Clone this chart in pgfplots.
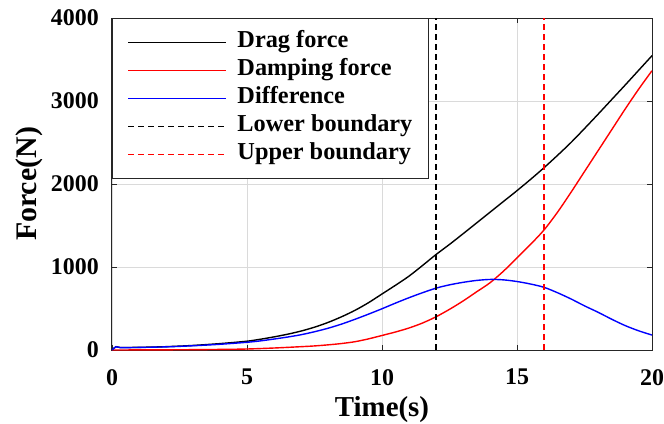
\documentclass[border=0pt]{standalone}
\usepackage{fontspec}
\setmainfont{Liberation Serif}
\usepackage{pgfplots}
\pgfplotsset{compat=1.18}
\definecolor{axgray}{HTML}{262626}
\definecolor{gridgray}{HTML}{DADADA}
\begin{document}
\begin{tikzpicture}
\begin{axis}[
  scale only axis,
  width=540bp, height=332bp,
  xmin=0, xmax=20, ymin=0, ymax=4000,
  xtick={0,5,10,15,20},
  ytick={0,1000,2000,3000,4000},
  axis line style={axgray, line width=1bp},
  tick style={axgray, line width=0.8bp},
  major tick length=5bp,
  tick align=inside,
  xtick pos=both, ytick pos=both,
  grid=major,
  major grid style={gridgray, line width=0.8bp},
  /pgf/number format/assume math mode=true,
  /pgf/number format/set thousands separator={},
  every tick label/.append style={font=\fontsize{24}{26}\selectfont\bfseries, inner sep=0pt},
  xticklabel style={anchor=north, yshift=-19bp},
  yticklabel style={anchor=east, xshift=-13bp},
  xlabel={Time(s)}, ylabel={Force(N)},
  xlabel style={font=\fontsize{29}{31}\selectfont\bfseries, inner sep=0pt, at={(axis description cs:0.5,-0.199)}, anchor=base},
  ylabel style={font=\fontsize{30}{32}\selectfont\bfseries, inner sep=0pt, at={(axis description cs:-0.139,0.5)}, anchor=base, rotate=0},
  legend style={at={(0,1)}, anchor=north west, draw=axgray, line width=1bp,
    font=\fontsize{24.4}{26}\selectfont\bfseries, row sep=0pt,
    inner xsep=12bp, inner ysep=10bp,
    nodes={inner xsep=4bp, inner ysep=4bp, text height=15bp, text depth=5bp}},
  legend cell align=left,
]
\addplot[draw=black, line width=1.4bp, smooth,
  legend image code/.code={\path[draw=none] (0bp,0bp) -- (109bp,0bp); \draw[draw=black, line width=1.4bp, solid] (4bp,0bp) -- (102bp,0bp);}] coordinates {
(0,0) (0.15,40) (0.3,30) (1,32) (2,40) (3,55) (4,77) (5,106) (5.5,130) (6,158) (6.5,190) (7,228) (7.5,275) (8,332) (8.5,400) (9,478) (9.5,570) (10,675) (10.5,780) (11,890) (11.5,1018) (12,1150) (12.5,1272) (13,1400) (13.5,1530) (14,1660) (14.5,1790) (15,1920) (15.5,2055) (16,2196) (16.5,2345) (17,2500) (17.5,2668) (18,2840) (18.5,3015) (19,3190) (19.5,3368) (20,3546)};
\addlegendentry{Drag force}
\addplot[draw=red, line width=1.4bp, smooth,
  legend image code/.code={\path[draw=none] (0bp,0bp) -- (109bp,0bp); \draw[draw=red, line width=1.4bp, solid] (4bp,0bp) -- (102bp,0bp);}] coordinates {
(0,0) (1,1) (2,2) (3,4) (4,7) (5,12) (6,24) (7,40) (7.5,49) (8,62) (8.5,78) (9,100) (9.5,134) (10,175) (10.5,217) (11,265) (11.5,325) (12,400) (12.5,490) (13,590) (13.5,700) (14,810) (14.5,950) (15,1110) (15.5,1272) (16,1446) (16.5,1660) (17,1900) (17.5,2150) (18,2400) (18.5,2650) (19,2900) (19.5,3140) (20,3365)};
\addlegendentry{Damping force}
\addplot[draw=blue, line width=1.4bp, smooth,
  legend image code/.code={\path[draw=none] (0bp,0bp) -- (109bp,0bp); \draw[draw=blue, line width=1.4bp, solid] (4bp,0bp) -- (102bp,0bp);}] coordinates {
(0,0) (0.15,40) (0.3,29) (1,31) (2,38) (3,51) (4,69) (5,93) (5.5,110) (6,132) (6.5,156) (7,184) (7.5,220) (8,262) (8.5,312) (9,370) (9.5,432) (10,497) (10.5,565) (11,630) (11.5,690) (12,745) (12.5,785) (13,815) (13.5,838) (14,850) (14.5,845) (15,825) (15.5,795) (16,755) (16.5,690) (17,615) (17.5,532) (18,455) (18.5,372) (19,295) (19.5,232) (20,180)};
\addlegendentry{Difference}
\addplot[draw=black, line width=1.3bp, dash pattern=on 6bp off 4bp,
  legend image code/.code={\path[draw=none] (0bp,0bp) -- (109bp,0bp); \draw[draw=black, line width=1.3bp, dash pattern=on 6bp off 4bp] (4bp,0bp) -- (102bp,0bp);}] coordinates {(12,0) (12,4000)};
\addlegendentry{Lower boundary}
\addplot[draw=red, line width=1.3bp, dash pattern=on 6bp off 4bp,
  legend image code/.code={\path[draw=none] (0bp,0bp) -- (109bp,0bp); \draw[draw=red, line width=1.3bp, dash pattern=on 6bp off 4bp] (4bp,0bp) -- (102bp,0bp);}] coordinates {(16,0) (16,4000)};
\addlegendentry{Upper boundary}
\end{axis}
\pgfresetboundingbox
\path (current axis.south west) ++(-112bp,-74bp) rectangle ++(664bp,424bp);
\end{tikzpicture}
\end{document}
